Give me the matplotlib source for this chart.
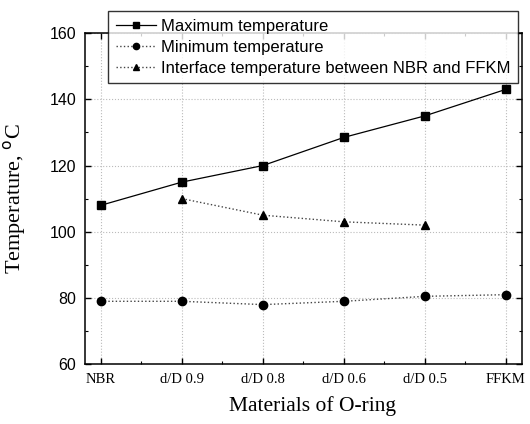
import matplotlib
matplotlib.use("Agg")
import matplotlib.pyplot as plt
from matplotlib.ticker import MultipleLocator

# data
materials = ["NBR", "d/D 0.9", "d/D 0.8", "d/D 0.6", "d/D 0.5", "FFKM"]
max_temp = [108, 115, 120, 128.5, 135, 143]
min_temp = [79, 79, 78, 79, 80.5, 81]
iface_idx = [1, 2, 3, 4]
iface_temp = [110, 105, 103, 102]

xs = list(range(len(materials)))

fig = plt.figure(figsize=(5.3, 4.24), dpi=100)
ax = fig.add_axes([0.160, 0.141, 0.825, 0.781])

ax.plot(xs, max_temp, '-', color='black', lw=0.9, marker='s', ms=6,
        label='Maximum temperature')
ax.plot(xs, min_temp, ':', color='#444444', lw=1.0, marker='o', ms=6,
        mfc='black', mec='black', label='Minimum temperature')
ax.plot(iface_idx, iface_temp, ':', color='#444444', lw=1.0, marker='^', ms=6,
        mfc='black', mec='black', label='Interface temperature between NBR and FFKM')

ax.set_xlim(-0.2, 5.2)
ax.set_ylim(60, 160)
ax.set_xticks(xs)
ax.set_xticklabels(materials, family='Liberation Serif', fontsize=10.5)
ax.xaxis.set_minor_locator(MultipleLocator(0.5))
ax.yaxis.set_major_locator(MultipleLocator(20))
ax.yaxis.set_minor_locator(MultipleLocator(10))
for lab in ax.get_yticklabels():
    lab.set_family('Liberation Sans')
    lab.set_fontsize(11.5)

ax.tick_params(which='both', direction='in', top=True, right=True, color='black')
ax.tick_params(which='major', length=4, width=1)
ax.tick_params(which='minor', length=2.5, width=0.8)
ax.tick_params(axis='x', pad=6)
ax.tick_params(axis='y', pad=6)
for s in ax.spines.values():
    s.set_linewidth(1.1)

ax.grid(True, which='major', linestyle=':', color='#bbbbbb', lw=0.8)

ax.set_xlabel('Materials of O-ring', family='Liberation Serif', fontsize=15.5)
ax.xaxis.set_label_coords(0.52, -0.095)
ax.set_ylabel('Temperature, $^\\mathrm{o}$C', family='Liberation Serif', fontsize=16)
ax.yaxis.set_label_coords(-0.13, 0.5)

leg = fig.legend(loc='upper left', bbox_to_anchor=(0.204, 0.974), frameon=True,
                 fancybox=False, prop={'family': 'Liberation Sans', 'size': 12},
                 handlelength=2.4, handletextpad=0.3, borderpad=0.45, labelspacing=0.37,
                 markerscale=0.75, borderaxespad=0)
leg.get_frame().set_edgecolor('black')
leg.get_frame().set_linewidth(1.0)

fig.savefig('out.png', dpi=100)
